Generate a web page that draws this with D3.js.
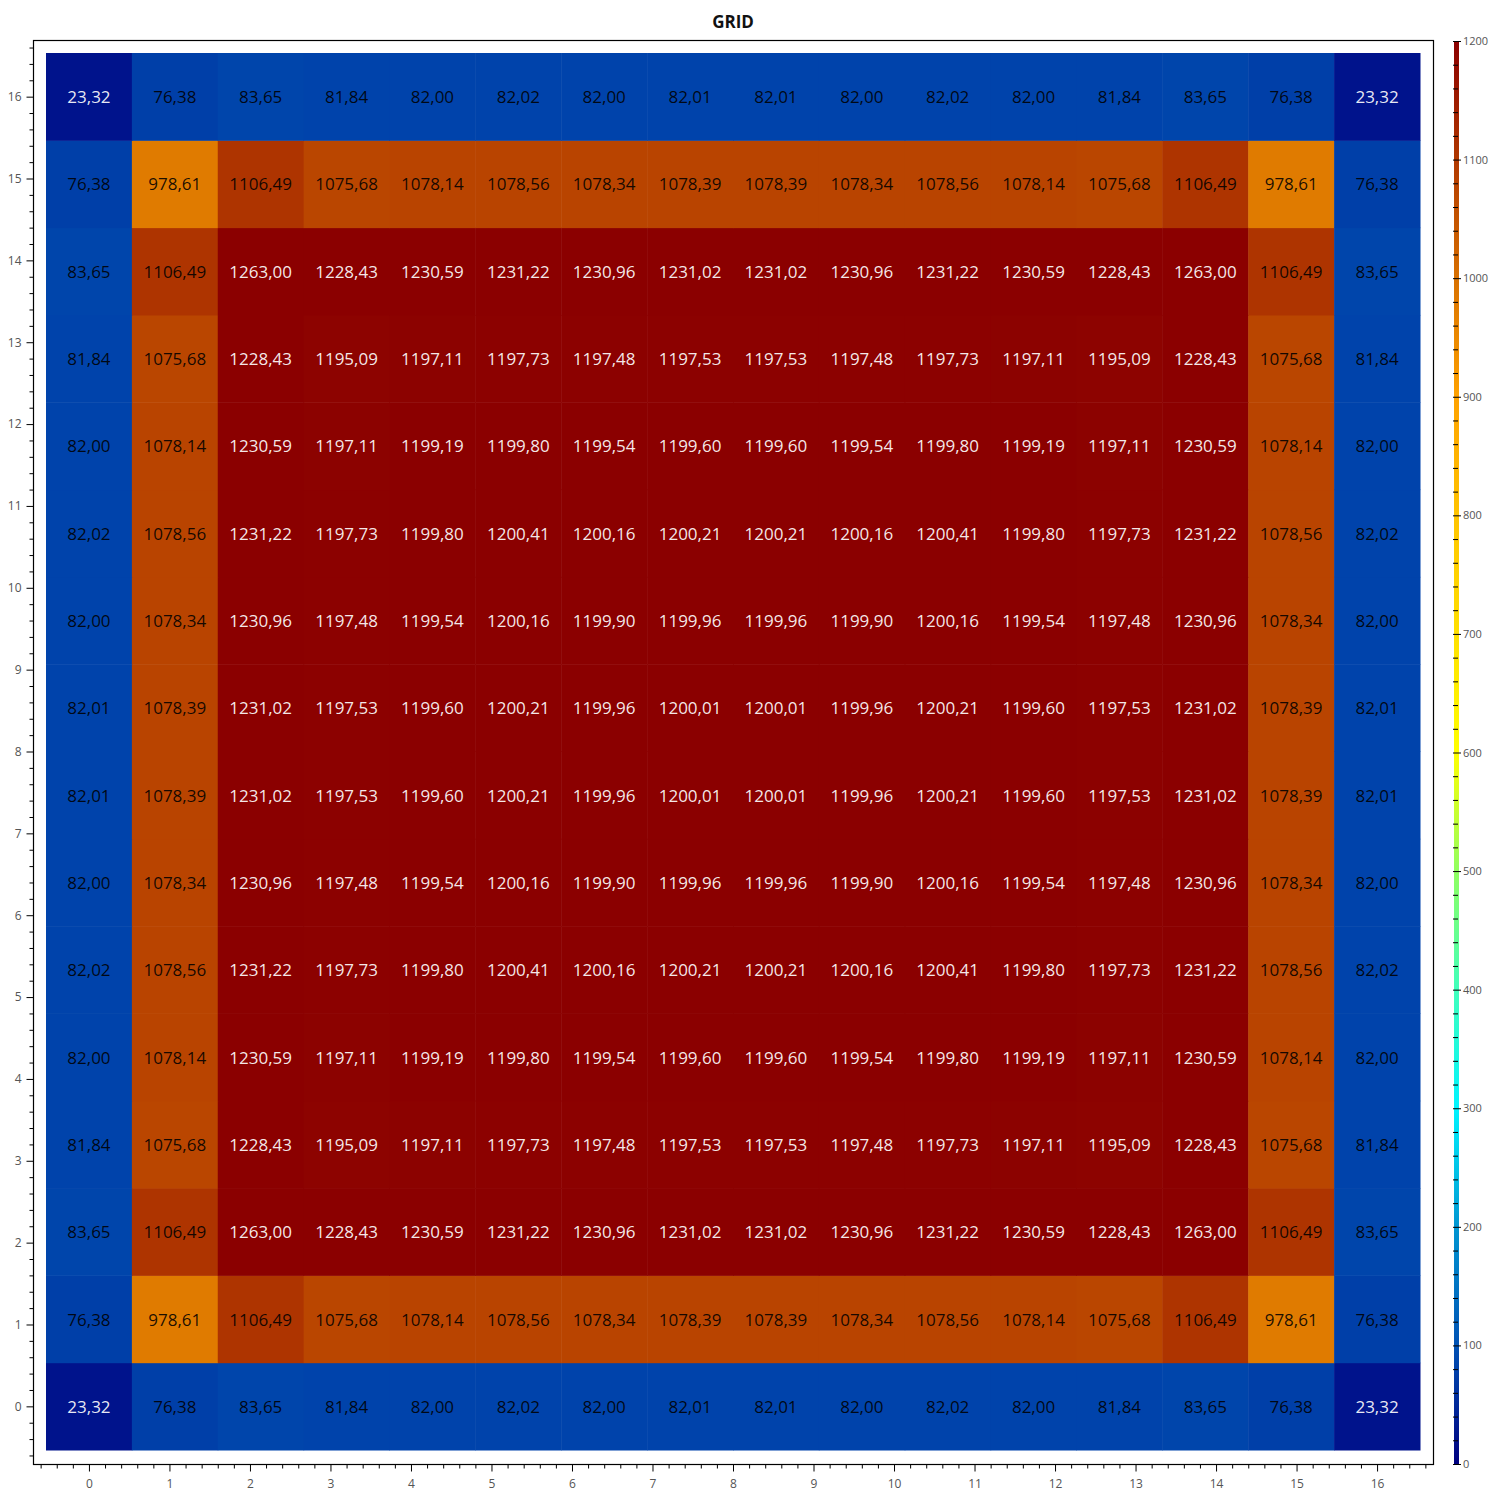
<!DOCTYPE html>
<html>
<head>
<meta charset="utf-8">
<script src="https://cdn.jsdelivr.net/npm/d3@7"></script>
<style>
  body { margin: 0; background: #fff; }
  text { font-family: "Open Sans", "Noto Sans", sans-serif; }
</style>
</head>
<body>
<svg id="chart" width="1500" height="1500"></svg>
<script>
// grid values, bottom row first (row 0 is at the bottom)
var row0  = [23.32, 76.38, 83.65, 81.84, 82.00, 82.02, 82.00, 82.01, 82.01, 82.00, 82.02, 82.00, 81.84, 83.65, 76.38, 23.32];
var row1  = [76.38, 978.61, 1106.49, 1075.68, 1078.14, 1078.56, 1078.34, 1078.39, 1078.39, 1078.34, 1078.56, 1078.14, 1075.68, 1106.49, 978.61, 76.38];
var row2  = [83.65, 1106.49, 1263.00, 1228.43, 1230.59, 1231.22, 1230.96, 1231.02, 1231.02, 1230.96, 1231.22, 1230.59, 1228.43, 1263.00, 1106.49, 83.65];
var row3  = [81.84, 1075.68, 1228.43, 1195.09, 1197.11, 1197.73, 1197.48, 1197.53, 1197.53, 1197.48, 1197.73, 1197.11, 1195.09, 1228.43, 1075.68, 81.84];
var row4  = [82.00, 1078.14, 1230.59, 1197.11, 1199.19, 1199.80, 1199.54, 1199.60, 1199.60, 1199.54, 1199.80, 1199.19, 1197.11, 1230.59, 1078.14, 82.00];
var row5  = [82.02, 1078.56, 1231.22, 1197.73, 1199.80, 1200.41, 1200.16, 1200.21, 1200.21, 1200.16, 1200.41, 1199.80, 1197.73, 1231.22, 1078.56, 82.02];
var row6  = [82.00, 1078.34, 1230.96, 1197.48, 1199.54, 1200.16, 1199.90, 1199.96, 1199.96, 1199.90, 1200.16, 1199.54, 1197.48, 1230.96, 1078.34, 82.00];
var row7  = [82.01, 1078.39, 1231.02, 1197.53, 1199.60, 1200.21, 1199.96, 1200.01, 1200.01, 1199.96, 1200.21, 1199.60, 1197.53, 1231.02, 1078.39, 82.01];
var row8  = [82.01, 1078.39, 1231.02, 1197.53, 1199.60, 1200.21, 1199.96, 1200.01, 1200.01, 1199.96, 1200.21, 1199.60, 1197.53, 1231.02, 1078.39, 82.01];
var row9  = [82.00, 1078.34, 1230.96, 1197.48, 1199.54, 1200.16, 1199.90, 1199.96, 1199.96, 1199.90, 1200.16, 1199.54, 1197.48, 1230.96, 1078.34, 82.00];
var row10 = [82.02, 1078.56, 1231.22, 1197.73, 1199.80, 1200.41, 1200.16, 1200.21, 1200.21, 1200.16, 1200.41, 1199.80, 1197.73, 1231.22, 1078.56, 82.02];
var row11 = [82.00, 1078.14, 1230.59, 1197.11, 1199.19, 1199.80, 1199.54, 1199.60, 1199.60, 1199.54, 1199.80, 1199.19, 1197.11, 1230.59, 1078.14, 82.00];
var row12 = [81.84, 1075.68, 1228.43, 1195.09, 1197.11, 1197.73, 1197.48, 1197.53, 1197.53, 1197.48, 1197.73, 1197.11, 1195.09, 1228.43, 1075.68, 81.84];
var row13 = [83.65, 1106.49, 1263.00, 1228.43, 1230.59, 1231.22, 1230.96, 1231.02, 1231.02, 1230.96, 1231.22, 1230.59, 1228.43, 1263.00, 1106.49, 83.65];
var row14 = [76.38, 978.61, 1106.49, 1075.68, 1078.14, 1078.56, 1078.34, 1078.39, 1078.39, 1078.34, 1078.56, 1078.14, 1075.68, 1106.49, 978.61, 76.38];
var row15 = [23.32, 76.38, 83.65, 81.84, 82.00, 82.02, 82.00, 82.01, 82.01, 82.00, 82.02, 82.00, 81.84, 83.65, 76.38, 23.32];
var rows = [row0, row1, row2, row3, row4, row5, row6, row7, row8, row9, row10, row11, row12, row13, row14, row15];

var axisTicks = d3.range(0, 17);            // 0..16 on both axes
var colorTicks = d3.range(0, 1201, 100);     // colorbar labels
var colorStops = [0, 100, 200, 300, 400, 500, 600, 700, 800, 900, 1000, 1100, 1200];
var colorHex = ["#000080", "#0052b4", "#0096d2", "#00f4ff", "#40ffbc", "#90ff60", "#ffff00",
                "#ffe000", "#ffc400", "#ffa200", "#d87000", "#b03800", "#8b0000"];

var svg = d3.select("#chart");

// frame + cell area
var fx0 = 33, fx1 = 1433, fy0 = 40, fy1 = 1464;
var cx0 = 46, cx1 = 1420, cy0 = 53, cy1 = 1450;

var n = rows.length;
var xBand = d3.scaleBand().domain(d3.range(n)).range([cx0, cx1]).paddingInner(0);
var yBand = d3.scaleBand().domain(d3.range(n)).range([cy1, cy0]).paddingInner(0);

// axes run from first to last cell centre
var xSl = d3.scaleLinear().domain([0, 16])
  .range([xBand(0) + xBand.bandwidth() / 2, xBand(n - 1) + xBand.bandwidth() / 2]);
var ySl = d3.scaleLinear().domain([0, 16])
  .range([yBand(0) + yBand.bandwidth() / 2, yBand(n - 1) + yBand.bandwidth() / 2]);

var color = d3.scaleLinear().domain(colorStops).range(colorHex).clamp(true);

var cells = [];
rows.forEach(function (r, j) {
  r.forEach(function (v, i) { cells.push({ i: i, j: j, v: v }); });
});

var g = svg.append("g");
g.selectAll("rect.cell")
  .data(cells)
  .enter()
  .append("rect")
  .attr("class", "cell")
  .attr("x", d => xBand(d.i))
  .attr("y", d => yBand(d.j))
  .attr("width", xBand.bandwidth() + 0.5)
  .attr("height", yBand.bandwidth() + 0.5)
  .attr("fill", d => color(d.v));

g.selectAll("text.val")
  .data(cells)
  .enter()
  .append("text")
  .attr("class", "val")
  .attr("x", d => xBand(d.i) + xBand.bandwidth() / 2)
  .attr("y", d => yBand(d.j) + yBand.bandwidth() / 2)
  .attr("text-anchor", "middle")
  .attr("dominant-baseline", "central")
  .style("font-size", "17px")
  .attr("fill", d => (d.v < 50 || d.v > 1150) ? "rgba(255,255,255,0.92)" : "rgba(0,0,0,0.88)")
  .text(d => d.v.toFixed(2).replace(".", ","));

// frame
svg.append("rect")
  .attr("x", fx0 + 0.5).attr("y", fy0 + 0.5)
  .attr("width", fx1 - fx0).attr("height", fy1 - fy0)
  .attr("fill", "none").attr("stroke", "#000").attr("stroke-width", 1.2);

var minor = d3.range(-0.6, 16.61, 0.2).filter(t => Math.abs(t - Math.round(t)) > 1e-6);

function styleAxis(sel) {
  sel.select(".domain").remove();
  sel.selectAll("line").attr("stroke", "#000");
  sel.selectAll("text").attr("fill", "#555").style("font-size", "12px")
    .style("font-family", "'Open Sans', sans-serif");
}

// bottom axis
svg.append("g").attr("transform", "translate(0," + (fy1 + 0.5) + ")")
  .call(d3.axisBottom(xSl).tickValues(axisTicks).tickSize(7).tickSizeOuter(0).tickPadding(8))
  .call(styleAxis);
svg.append("g").attr("transform", "translate(0," + (fy1 + 0.5) + ")")
  .call(d3.axisBottom(xSl).tickValues(minor).tickSize(4).tickSizeOuter(0).tickFormat(""))
  .call(styleAxis);

// left axis
svg.append("g").attr("transform", "translate(" + (fx0 + 0.5) + ",0)")
  .call(d3.axisLeft(ySl).tickValues(axisTicks).tickSize(7).tickSizeOuter(0).tickPadding(5))
  .call(styleAxis);
svg.append("g").attr("transform", "translate(" + (fx0 + 0.5) + ",0)")
  .call(d3.axisLeft(ySl).tickValues(minor).tickSize(4).tickSizeOuter(0).tickFormat(""))
  .call(styleAxis);

// title
svg.append("text")
  .attr("x", (fx0 + fx1) / 2).attr("y", 28)
  .attr("text-anchor", "middle")
  .style("font-size", "17px").style("font-weight", "bold")
  .attr("fill", "#111")
  .text("GRID");

// colorbar
var cbX = 1454, cbW = 5;
var cScale = d3.scaleLinear().domain([0, 1200]).range([fy1, fy0 + 1]);
var defs = svg.append("defs");
var grad = defs.append("linearGradient").attr("id", "cbgrad")
  .attr("x1", "0").attr("y1", "1").attr("x2", "0").attr("y2", "0");
grad.selectAll("stop")
  .data(colorStops)
  .enter()
  .append("stop")
  .attr("offset", d => d / 1200)
  .attr("stop-color", d => color(d));
svg.append("rect")
  .attr("x", cbX).attr("y", cScale(1200))
  .attr("width", cbW).attr("height", cScale(0) - cScale(1200))
  .attr("fill", "url(#cbgrad)");

var cbMinor = d3.range(0, 1201, 20).filter(t => t % 100 !== 0);
svg.append("g").attr("transform", "translate(" + (cbX - 1) + ",0)")
  .call(d3.axisRight(cScale).tickValues(colorTicks).tickSize(8).tickSizeOuter(0).tickPadding(2)
    .tickFormat(d3.format("d")))
  .call(styleAxis)
  .call(s => s.selectAll("text").style("font-size", "11px"));
svg.append("g").attr("transform", "translate(" + (cbX - 1) + ",0)")
  .call(d3.axisRight(cScale).tickValues(cbMinor).tickSize(5).tickSizeOuter(0).tickFormat(""))
  .call(styleAxis);
</script>
</body>
</html>
